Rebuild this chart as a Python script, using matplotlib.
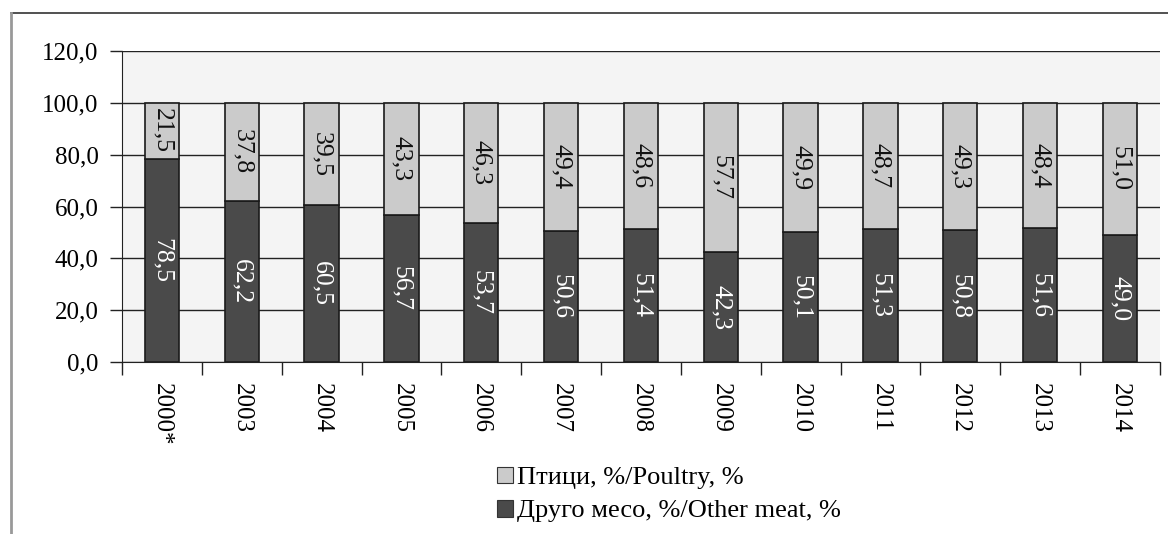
import matplotlib.pyplot as plt
import numpy as np
from matplotlib.lines import Line2D
from matplotlib.patches import Patch

plt.rcParams['font.family'] = ['Liberation Serif', 'DejaVu Serif']

years = ['2000*', '2003', '2004', '2005', '2006', '2007', '2008',
         '2009', '2010', '2011', '2012', '2013', '2014']
other_meat = [78.5, 62.2, 60.5, 56.7, 53.7, 50.6, 51.4, 42.3, 50.1, 51.3, 50.8, 51.6, 49.0]
poultry = [21.5, 37.8, 39.5, 43.3, 46.3, 49.4, 48.6, 57.7, 49.9, 48.7, 49.3, 48.4, 51.0]
yticks = [0, 20, 40, 60, 80, 100, 120]

dark = '#4a4a4a'
light = '#cbcbcb'

fig = plt.figure(figsize=(11.68, 5.34), dpi=100)
ax = fig.add_axes([0.1045, 0.322, 0.8885, 0.5825])
ax.set_facecolor('#f4f4f4')

x = np.arange(len(years))
w = 0.43
ax.bar(x, other_meat, w, color=dark, edgecolor='#1a1a1a', linewidth=1.2, zorder=3)
ax.bar(x, poultry, w, bottom=other_meat, color=light, edgecolor='#1a1a1a', linewidth=1.2, zorder=3)

for i in range(len(years)):
    ax.text(x[i], other_meat[i] / 2, f'{other_meat[i]:.1f}'.replace('.', ','),
            rotation=270, ha='center', va='center', color='white', fontsize=18.5, zorder=4)
    ax.text(x[i], other_meat[i] + poultry[i] / 2, f'{poultry[i]:.1f}'.replace('.', ','),
            rotation=270, ha='center', va='center', color='#111111', fontsize=18.5, zorder=4)

ax.set_xlim(-0.5, len(years) - 0.5)
ax.set_ylim(0, 120)
ax.set_yticks(yticks)
ax.set_yticklabels([f'{v:.1f}'.replace('.', ',') for v in yticks], fontsize=18)
ax.yaxis.grid(True, color='#222222', linewidth=1.0, zorder=0)
ax.set_axisbelow(True)

ax.set_xticks(x)
ax.set_xticklabels(years, rotation=270, fontsize=18)
ax.tick_params(axis='x', which='major', length=0, pad=15)
ax.set_xticks(np.arange(len(years) + 1) - 0.5, minor=True)
ax.tick_params(axis='x', which='minor', length=9, color='#222222', width=1.0)
ax.tick_params(axis='y', length=9, color='#222222', width=1.0, pad=8)

for s in ['top', 'right']:
    ax.spines[s].set_visible(False)
ax.spines['left'].set_color('#222222')
ax.spines['bottom'].set_color('#222222')

# outer frame
fig.add_artist(Line2D([0.009, 1.0], [0.976, 0.976], color='#333333', linewidth=1.2, transform=fig.transFigure))
fig.add_artist(Line2D([0.009, 0.009], [0.0, 0.976], color='#999999', linewidth=2.0, transform=fig.transFigure))

handles = [Patch(facecolor=light, edgecolor='#333333', linewidth=0.8),
           Patch(facecolor=dark, edgecolor='#333333', linewidth=0.8)]
labels = ['Птици, %/Poultry, %', 'Друго месо, %/Other meat, %']
fig.legend(handles, labels, loc='center left', bbox_to_anchor=(0.4255, 0.074), frameon=False,
           fontsize=19, handlelength=0.6, handleheight=0.6, handletextpad=0.15,
           labelspacing=0.4, borderpad=0, borderaxespad=0)

fig.savefig('out.png', dpi=100)
